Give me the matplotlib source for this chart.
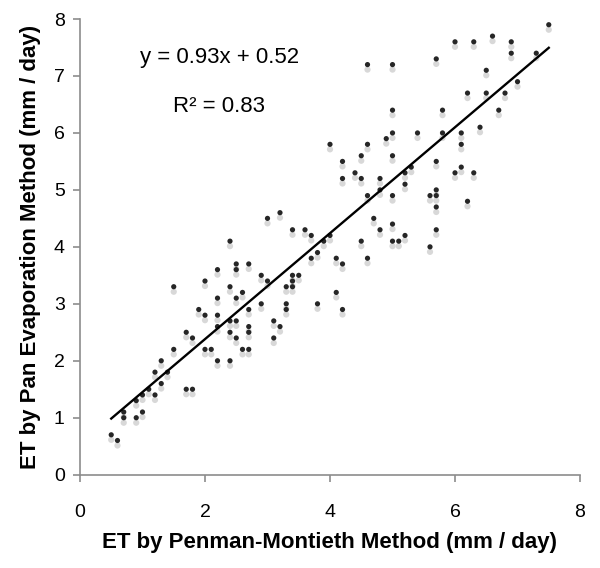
import numpy as np
import matplotlib.pyplot as plt
import matplotlib.transforms as mtransforms

plt.rcParams['font.family'] = ['Liberation Sans', 'DejaVu Sans']

# ET values (mm / day)
et_penman = [0.5, 0.6, 0.7, 0.7, 0.9, 0.9, 1.0, 1.0, 1.1, 1.2, 1.2, 1.3, 1.3, 1.4, 1.5, 1.5,
             1.7, 1.8, 1.7, 1.8, 1.9, 2.0, 2.0, 2.0, 2.1, 2.2, 2.2, 2.2, 2.2, 2.2, 2.4, 2.4,
             2.4, 2.4, 2.4, 2.5, 2.5, 2.5, 2.5, 2.5, 2.6, 2.6, 2.7, 2.7, 2.7, 2.7, 2.7, 2.9,
             2.9, 3.0, 3.1, 3.1, 3.2, 3.3, 3.3, 3.3, 3.4, 3.4, 3.4, 3.5, 3.7, 3.8, 3.8, 3.9,
             4.0, 3.0, 3.2, 3.4, 3.6, 3.7, 4.0, 4.1, 4.2, 4.6, 4.1, 4.2, 4.6, 5.0, 5.7, 6.0,
             6.3, 6.6, 6.9, 6.9, 7.3, 7.5, 6.5, 7.0, 6.2, 6.5, 6.8, 5.0, 5.8, 6.7, 6.4, 5.0,
             5.4, 5.8, 6.1, 6.1, 4.9, 4.6, 4.5, 4.2, 5.0, 5.7, 4.2, 4.4, 4.5, 4.8, 4.8, 4.6,
             5.0, 5.2, 5.3, 5.2, 6.0, 6.1, 6.3, 6.2, 5.6, 5.7, 5.7, 5.7, 5.7, 5.6, 4.7, 4.8,
             5.0, 4.5, 5.0, 5.1, 5.2]
et_pan = [0.7, 0.6, 1.1, 1.0, 1.3, 1.0, 1.1, 1.4, 1.5, 1.4, 1.8, 1.6, 2.0, 1.8, 2.2, 3.3,
          2.5, 2.4, 1.5, 1.5, 2.9, 2.8, 3.4, 2.2, 2.2, 3.6, 3.1, 2.8, 2.6, 2.0, 4.1, 3.3,
          2.7, 2.5, 2.0, 3.7, 3.6, 3.1, 2.7, 2.4, 3.2, 2.2, 3.7, 2.9, 2.6, 2.5, 2.2, 3.5,
          3.0, 3.4, 2.7, 2.4, 2.6, 3.3, 3.0, 2.9, 3.5, 3.4, 3.3, 3.5, 3.8, 3.9, 3.0, 4.1,
          4.2, 4.5, 4.6, 4.3, 4.3, 4.2, 5.8, 3.8, 3.7, 3.8, 3.2, 2.9, 7.2, 7.2, 7.3, 7.6,
          7.6, 7.7, 7.6, 7.4, 7.4, 7.9, 7.1, 6.9, 6.7, 6.7, 6.7, 6.4, 6.4, 6.4, 6.1, 6.0,
          6.0, 6.0, 6.0, 5.8, 5.9, 5.8, 5.6, 5.5, 5.6, 5.5, 5.2, 5.3, 5.2, 5.2, 5.0, 4.9,
          4.9, 5.3, 5.4, 5.1, 5.3, 5.4, 5.3, 4.8, 4.9, 5.0, 4.9, 4.7, 4.3, 4.0, 4.5, 4.3,
          4.4, 4.1, 4.1, 4.1, 4.2]

# trendline reported on the chart
slope = 0.93
intercept = 0.52
r_squared = 0.83

fig = plt.figure(figsize=(6, 5.68), dpi=100)
ax = fig.add_axes([0.1333, 0.1643, 0.8334, 0.8022])

# soft grey shadow under each marker
shadow = mtransforms.offset_copy(ax.transData, fig=fig, x=0, y=-5, units='dots')
ax.scatter(et_penman, et_pan, s=20, color='#d8d8d8', edgecolors='none',
           transform=shadow, zorder=2)
ax.scatter(et_penman, et_pan, s=14, color='#262626', edgecolors='none', zorder=3)

xfit = np.array([min(et_penman), max(et_penman)])
ax.plot(xfit, slope * xfit + intercept, color='black', lw=1.7, zorder=4)

ax.text(0.28, 0.9166, f'y = {slope:.2f}x + {intercept:.2f}', transform=ax.transAxes,
        ha='center', va='center', fontsize=16)
ax.text(0.279, 0.8089, f'R² = {r_squared:.2f}', transform=ax.transAxes,
        ha='center', va='center', fontsize=16)

ax.set_xlim(0, 8)
ax.set_ylim(0, 8)
ax.set_xticks(range(0, 9, 2))
ax.set_yticks(range(0, 9))
for side in ['top', 'right']:
    ax.spines[side].set_visible(False)
for side in ['left', 'bottom']:
    ax.spines[side].set_color('#8c8c8c')
    ax.spines[side].set_linewidth(1.2)
ax.tick_params(axis='both', direction='out', length=5, width=1.2, color='#8c8c8c',
               labelsize=14)
ax.tick_params(axis='x', pad=16)
ax.tick_params(axis='y', pad=6)

ax.set_xlabel('ET by Penman-Montieth Method (mm / day)', fontsize=16, fontweight='bold',
              labelpad=8)
ax.set_ylabel('ET by Pan Evaporation Method (mm / day)', fontsize=16, fontweight='bold',
              labelpad=9)

fig.savefig('out.png', dpi=100)
